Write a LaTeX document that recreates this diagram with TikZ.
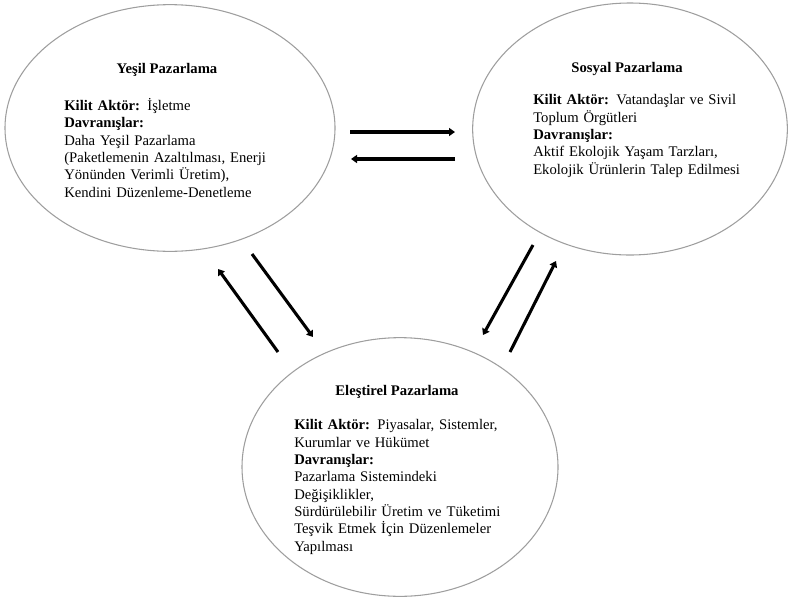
\documentclass[tikz,border=0pt]{standalone}
\usepackage{fontspec}
\setmainfont{Liberation Serif}
\usetikzlibrary{shapes.geometric, arrows.meta}

\newcommand{\jline}[1]{\makebox[153pt][s]{#1}}

\begin{document}
\begin{tikzpicture}[x=0.75pt, y=-0.75pt]

\tikzset{bubble/.style = {shape=ellipse, draw=black!38, line width=0.8pt, inner sep=0pt}}
\tikzset{title/.style = {font=\fontsize{11}{13}\selectfont\bfseries, inner sep=0pt}}
\tikzset{body/.style = {font=\fontsize{11}{13}\selectfont, inner sep=0pt, anchor=west, text width=180pt, align=left}}
\tikzset{flow/.style = {-{Triangle[length=4.5pt, width=6pt]}, line width=2.3pt}}

\useasboundingbox (0,0) rectangle (788,600);

%ellipses
\node[bubble, minimum width=247.5pt, minimum height=185pt] (yesil) at (170,128) {};
\node[bubble, minimum width=236pt, minimum height=189pt] (sosyal) at (630,129) {};
\node[bubble, minimum width=237pt, minimum height=194pt] (elestirel) at (400,467) {};

%texts
\node[title] (yesilt) at (167,70) {Yeşil Pazarlama};
\node[body] (yesilb) at (64,148) {\textbf{Kilit Aktör:} İşletme\\
\textbf{Davranışlar:}\\
Daha Yeşil Pazarlama\\
(Paketlemenin Azaltılması, Enerji\\
Yönünden Verimli Üretim),\\
Kendini Düzenleme-Denetleme};

\node[title] (sosyalt) at (627,69) {Sosyal Pazarlama};
\node[body] (sosyalb) at (533,136) {\jline{\textbf{Kilit Aktör:} Vatandaşlar ve Sivil}\\
Toplum Örgütleri\\
\textbf{Davranışlar:}\\
\jline{Aktif Ekolojik Yaşam Tarzları,}\\
Ekolojik Ürünlerin Talep Edilmesi};

\node[title] (elestirelt) at (397,392) {Eleştirel Pazarlama};
\node[body] (elestirelb) at (294,487) {\jline{\textbf{Kilit Aktör:} Piyasalar, Sistemler,}\\
Kurumlar ve Hükümet\\
\textbf{Davranışlar:}\\
Pazarlama Sistemindeki\\
Değişiklikler,\\
Sürdürülebilir Üretim ve Tüketimi\\
Teşvik Etmek İçin Düzenlemeler\\
Yapılması};

%arrows
\coordinate (h1a) at (350,132);
\coordinate (h1b) at (455,132);
\coordinate (h2a) at (455,159);
\coordinate (h2b) at (351,159);
\coordinate (l1a) at (278,352);
\coordinate (l1b) at (218,269);
\coordinate (l2a) at (252,254);
\coordinate (l2b) at (313,337);
\coordinate (r1a) at (533,245);
\coordinate (r1b) at (483,335);
\coordinate (r2a) at (510,352);
\coordinate (r2b) at (556,261);
\draw [flow] (h1a) -- (h1b);
\draw [flow] (h2a) -- (h2b);
\draw [flow] (l1a) -- (l1b);
\draw [flow] (l2a) -- (l2b);
\draw [flow] (r1a) -- (r1b);
\draw [flow] (r2a) -- (r2b);

\end{tikzpicture}
\end{document}
